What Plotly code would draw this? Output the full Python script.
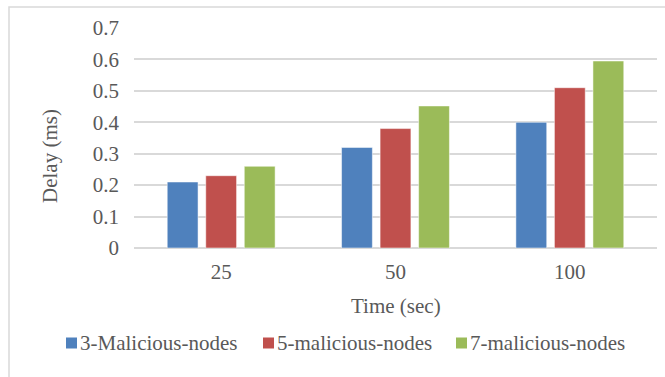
import plotly.graph_objects as go

categories = ["25", "50", "100"]
series_names = ["3-Malicious-nodes", "5-malicious-nodes", "7-malicious-nodes"]
s3 = [0.21, 0.32, 0.40]
s5 = [0.23, 0.38, 0.51]
s7 = [0.26, 0.452, 0.595]
colors = ["#4f81bd", "#c0504d", "#9bbb59"]
y_ticks = [0, 0.1, 0.2, 0.3, 0.4, 0.5, 0.6, 0.7]
y_ticktext = ["0", "0.1", "0.2", "0.3", "0.4", "0.5", "0.6", "0.7"]

FONT = "Liberation Serif"
FS = 21
TXT = "#595959"
GRID = "#d9d9d9"

W, H = 665, 377
L, R, T, B = 134, 8, 28, 129
pw, ph = W - L - R, H - T - B

def px_x(x):
    return (x - L) / pw

def px_y(y):
    return (H - B - y) / ph

fig = go.Figure()
for name, vals, col in zip(series_names, [s3, s5, s7], colors):
    fig.add_trace(go.Bar(
        x=categories, y=vals, name=name,
        marker=dict(color=col, line=dict(color="rgba(255,255,255,0.5)", width=1)),
    ))

fig.update_layout(
    width=W, height=H,
    margin=dict(l=L, r=R, t=T, b=B, autoexpand=False),
    paper_bgcolor="white", plot_bgcolor="white",
    barmode="group", bargap=0.337, bargroupgap=0.2,
    font=dict(family=FONT, size=FS, color=TXT),
    xaxis=dict(type="category", showgrid=False, showline=False, ticks="",
               ticklabelstandoff=9, tickfont=dict(family=FONT, size=FS, color=TXT)),
    yaxis=dict(range=[0, 0.7], tickvals=y_ticks, ticktext=y_ticktext,
               showgrid=True, gridcolor=GRID, gridwidth=1.5,
               zeroline=True, zerolinecolor=GRID, zerolinewidth=1.5,
               showline=False, ticks="", ticklabelstandoff=14,
               tickfont=dict(family=FONT, size=FS, color=TXT)),
    showlegend=False,
)

# legend drawn manually (squares + labels)
legend_sq_x = [66, 263, 456]
legend_y = 343
for name, col, sx in zip(series_names, colors, legend_sq_x):
    fig.add_shape(type="rect", xref="paper", yref="paper",
                  x0=px_x(sx), x1=px_x(sx + 11),
                  y0=px_y(legend_y + 5.5), y1=px_y(legend_y - 5.5),
                  line=dict(width=0), fillcolor=col)
    fig.add_annotation(text=name, showarrow=False, xref="paper", yref="paper",
                       x=px_x(sx + 12), y=px_y(legend_y), xanchor="left",
                       yanchor="middle",
                       font=dict(size=FS, color=TXT, family=FONT))

fig.add_annotation(text="Delay (ms)", textangle=-90, showarrow=False,
                   xref="paper", yref="paper", x=px_x(50), y=px_y(156),
                   xanchor="center", yanchor="middle",
                   font=dict(size=FS, color=TXT, family=FONT))
fig.add_annotation(text="Time (sec)", showarrow=False,
                   xref="paper", yref="paper", x=px_x(395.5), y=px_y(306),
                   xanchor="center", yanchor="middle",
                   font=dict(size=FS, color=TXT, family=FONT))

fig.add_shape(type="rect", xref="paper", yref="paper",
              x0=px_x(9), x1=px_x(680), y0=px_y(390), y1=px_y(7),
              line=dict(color=GRID, width=1.5), fillcolor="rgba(0,0,0,0)",
              layer="below")

fig.write_html("out.html")
